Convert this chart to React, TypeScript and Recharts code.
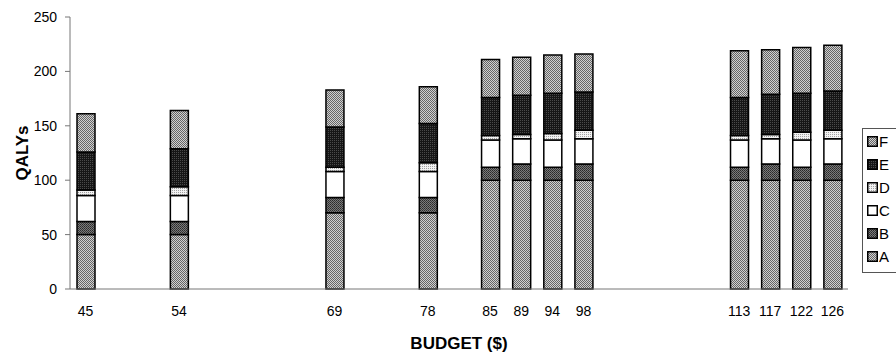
import { BarChart, Bar, XAxis, YAxis, Label } from "recharts";

// budget levels ($) and the QALYs gained by each program at that budget
const budgets = [45, 54, 69, 78, 85, 89, 94, 98, 113, 117, 122, 126];
const programA = [50, 50, 70, 70, 100, 100, 100, 100, 100, 100, 100, 100];
const programB = [12, 12, 14, 14, 12, 15, 12, 15, 12, 15, 12, 15];
const programC = [24, 24, 24, 24, 25, 23, 25, 23, 25, 23, 25, 23];
const programD = [5, 8, 4, 8, 4, 4, 6, 8, 4, 4, 7, 8];
const programE = [35, 35, 37, 36, 35, 36, 37, 35, 35, 37, 36, 36];
const programF = [35, 35, 34, 34, 35, 35, 35, 35, 43, 41, 42, 42];

// category slots along the x axis; empty strings are unused budget slots
const axisCategories = [
	"45", "", "", "54", "", "", "", "", "69", "", "", "78", "",
	"85", "89", "94", "98", "", "", "", "", "113", "117", "122", "126",
];

const yTicks = [0, 50, 100, 150, 200, 250];
const programs = ["A", "B", "C", "D", "E", "F"];

const rows = axisCategories.map((label) => {
	const i = budgets.indexOf(Number(label));
	if (!label || i < 0) return { label };
	return {
		label,
		A: programA[i],
		B: programB[i],
		C: programC[i],
		D: programD[i],
		E: programE[i],
		F: programF[i],
	};
});

const fills: Record<string, string> = {
	A: "url(#patA)",
	B: "url(#patB)",
	C: "#ffffff",
	D: "url(#patD)",
	E: "url(#patE)",
	F: "url(#patA)",
};

const FONT = "'Liberation Sans', Arial, sans-serif";

function Patterns() {
	return (
		<defs>
			<pattern id="patA" width="2" height="2" patternUnits="userSpaceOnUse">
				<rect width="2" height="2" fill="#d0d0d0" />
				<rect width="1" height="1" fill="#666" />
				<rect x="1" y="1" width="1" height="1" fill="#666" />
			</pattern>
			<pattern id="patB" width="2" height="2" patternUnits="userSpaceOnUse">
				<rect width="2" height="2" fill="#7a7a7a" />
				<rect width="1" height="1" fill="#2a2a2a" />
				<rect x="1" y="1" width="1" height="1" fill="#3a3a3a" />
			</pattern>
			<pattern id="patD" width="2" height="2" patternUnits="userSpaceOnUse">
				<rect width="2" height="2" fill="#f2f2f2" />
				<rect width="1" height="1" fill="#a0a0a0" />
			</pattern>
			<pattern id="patE" width="2" height="2" patternUnits="userSpaceOnUse">
				<rect width="2" height="2" fill="#161616" />
				<rect width="1" height="1" fill="#4a4a4a" />
			</pattern>
		</defs>
	);
}

// legend drawn top-down F..A, beside the plot
function LegendBox() {
	return (
		<div
			style={{
				position: "absolute",
				left: 862,
				top: 128,
				border: "1px solid #555",
				borderRight: "none",
				background: "#fff",
				padding: "1px 0 4px 4px",
				fontFamily: FONT,
				fontSize: 15,
				lineHeight: "23px",
				width: 40,
			}}
		>
			{[...programs].reverse().map((p) => (
				<div key={p} style={{ display: "flex", alignItems: "center" }}>
					<svg width={11} height={11} style={{ marginRight: 1 }}>
						<rect
							x={0.75}
							y={0.75}
							width={9.5}
							height={9.5}
							fill={fills[p]}
							stroke="#000"
							strokeWidth={1.5}
						/>
					</svg>
					<span>{p}</span>
				</div>
			))}
		</div>
	);
}

export default function App() {
	return (
		<div style={{ position: "absolute", left: 0, top: 0, width: 896, height: 352, background: "#fff", overflow: "hidden" }}>
			<BarChart
				width={896}
				height={352}
				data={rows}
				margin={{ top: 17, right: 48, bottom: 0, left: 0 }}
				barSize={18}
			>
				<Patterns />
				<XAxis
					dataKey="label"
					interval={0}
					tickSize={0}
					tickMargin={17}
					height={63}
					stroke="#777"
					tick={{ fill: "#000", fontSize: 14, fontFamily: FONT }}
				>
					<Label
						content={({ viewBox }: any) => (
							<text
								x={viewBox.x + viewBox.width / 2}
								y={349}
								textAnchor="middle"
								fontFamily={FONT}
								fontSize={17}
								fontWeight="bold"
								fill="#000"
							>
								BUDGET ($)
							</text>
						)}
					/>
				</XAxis>
				<YAxis
					width={70}
					domain={[0, 250]}
					ticks={yTicks}
					tickSize={5}
					tickMargin={8}
					stroke="#777"
					tick={{ fill: "#000", fontSize: 14, fontFamily: FONT }}
				>
					<Label
						content={({ viewBox }: any) => {
							const cx = 22;
							const cy = viewBox.y + viewBox.height / 2;
							return (
								<text
									x={cx}
									y={cy}
									transform={`rotate(-90 ${cx} ${cy})`}
									textAnchor="middle"
									dominantBaseline="central"
									fontFamily={FONT}
									fontSize={17}
									fontWeight="bold"
									fill="#000"
								>
									QALYs
								</text>
							);
						}}
					/>
				</YAxis>
				{programs.map((p) => (
					<Bar
						key={p}
						dataKey={p}
						stackId="qaly"
						fill={fills[p]}
						stroke="#000"
						strokeWidth={1.5}
						isAnimationActive={false}
					/>
				))}
			</BarChart>
			<LegendBox />
		</div>
	);
}
